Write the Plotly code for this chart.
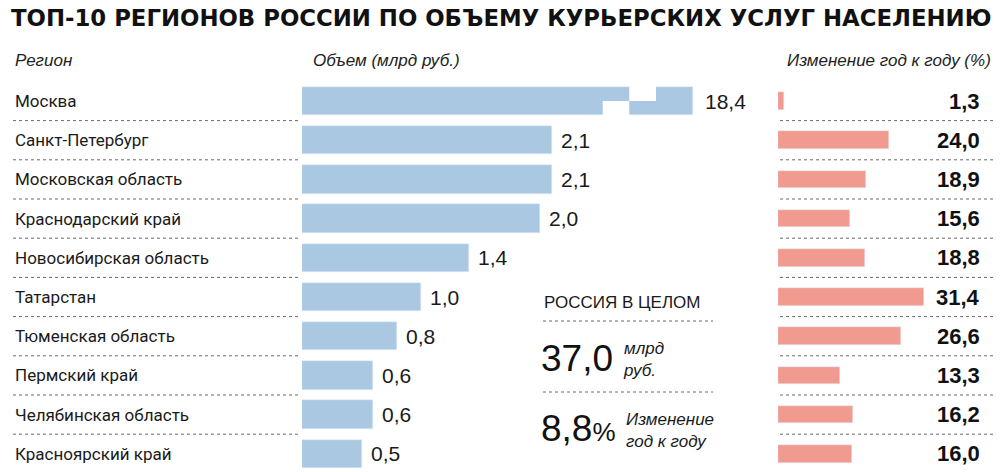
import numpy as np
import plotly.graph_objects as go

regions = ["Москва", "Санкт-Петербург", "Московская область", "Краснодарский край",
           "Новосибирская область", "Татарстан", "Тюменская область", "Пермский край",
           "Челябинская область", "Красноярский край"]
volume = [18.4, 2.1, 2.1, 2.0, 1.4, 1.0, 0.8, 0.6, 0.6, 0.5]   # млрд руб.
change = [1.3, 24.0, 18.9, 15.6, 18.8, 31.4, 26.6, 13.3, 16.2, 16.0]  # % год к году

total_volume = 37.0
total_change = 8.8

W, H = 1000, 472
BLUE = "#abc8e2"
PINK = "#f19b90"
SANS = "Liberation Sans, Arial, sans-serif"
LABEL = "Roboto, Liberation Sans, sans-serif"
DASH = "#6a6a6a"

# Moscow bar is drawn with a break
cap = 3.283
vol_shown = np.minimum(volume, cap)


def fx(p):
    return p / W


def fy(p):
    return 1 - p / H


def fmt(v):
    return f"{v:.1f}".replace(".", ",")


fig = go.Figure()
fig.add_bar(y=regions, x=vol_shown, orientation="h", marker_color=BLUE,
            width=0.72, xaxis="x", yaxis="y", hoverinfo="skip")
fig.add_bar(y=regions, x=change, orientation="h", marker_color=PINK,
            width=0.45, xaxis="x2", yaxis="y", hoverinfo="skip")

ann = []
# title and headers
ann.append(dict(text="<b>ТОП-10 РЕГИОНОВ РОССИИ ПО ОБЪЕМУ КУРЬЕРСКИХ УСЛУГ НАСЕЛЕНИЮ</b>",
                x=fx(9), y=fy(18), xanchor="left", yanchor="middle",
                font=dict(family="DejaVu Sans", size=22.8, color="#111")))
hdr = dict(family=SANS, size=17, color="#222", style="italic")
ann.append(dict(text="Регион", x=fx(13), y=fy(60), xanchor="left", yanchor="middle", font=hdr))
ann.append(dict(text="Объем (млрд руб.)", x=fx(311), y=fy(60), xanchor="left", yanchor="middle", font=hdr))
ann.append(dict(text="Изменение год к году (%)", x=fx(993), y=fy(60), xanchor="right",
                yanchor="middle", font=hdr))

for r, v, vs, c in zip(regions, volume, vol_shown, change):
    ann.append(dict(text=r, x=fx(13), xref="paper", y=r, yref="y", xanchor="left",
                    yanchor="middle", font=dict(family=LABEL, size=17, color="#1a1a1a")))
    ann.append(dict(text=fmt(v), x=vs, xref="x", y=r, yref="y", xanchor="left",
                    xshift=10 if v > cap else 7,
                    yanchor="middle", font=dict(family=SANS, size=21, color="#1a1a1a")))
    ann.append(dict(text="<b>" + fmt(c) + "</b>", x=fx(982), xref="paper", y=r, yref="y",
                    xanchor="right", yanchor="middle",
                    font=dict(family=SANS, size=22, color="#111")))

# Russia total box
ann.append(dict(text="РОССИЯ В ЦЕЛОМ", x=fx(542), y=fy(302), xanchor="left", yanchor="middle",
                font=dict(family=SANS, size=17, color="#1a1a1a")))
ann.append(dict(text=fmt(total_volume), x=fx(539), y=fy(358), xanchor="left", yanchor="middle",
                font=dict(family=SANS, size=37, color="#111")))
ann.append(dict(text="млрд<br>руб.", x=fx(621), y=fy(359), xanchor="left", yanchor="middle",
                align="left", font=dict(family=SANS, size=17, color="#1a1a1a", style="italic")))
ann.append(dict(text=fmt(total_change) + "<span style='font-size:26px'>%</span>",
                x=fx(539), y=fy(428), xanchor="left", yanchor="middle",
                font=dict(family=SANS, size=37, color="#111")))
ann.append(dict(text="Изменение<br>год к году", x=fx(624), y=fy(430), xanchor="left", yanchor="middle",
                align="left", font=dict(family=SANS, size=17, color="#1a1a1a", style="italic")))
for a in ann:
    a.setdefault("xref", "paper")
    a.setdefault("yref", "paper")
    a["showarrow"] = False

shapes = []
for i in range(len(regions) - 1):
    yy = i + 0.5
    for x0, x1 in [(13, 299), (780, 993)]:
        shapes.append(dict(type="line", xref="paper", yref="y", x0=fx(x0), x1=fx(x1), y0=yy, y1=yy,
                           line=dict(color=DASH, width=1, dash="3px,3px")))
for yp in [321, 392]:
    shapes.append(dict(type="line", xref="paper", yref="paper", x0=fx(543), x1=fx(713),
                       y0=fy(yp), y1=fy(yp), line=dict(color=DASH, width=1, dash="3px,3px")))
# break in Moscow bar
shapes.append(dict(type="rect", xref="x", yref="y", x0=2.527, x1=2.75, y0=0, y1=0.4,
                   fillcolor="white", line_width=0, layer="above"))
shapes.append(dict(type="rect", xref="x", yref="y", x0=2.75, x1=2.975, y0=-0.4, y1=0,
                   fillcolor="white", line_width=0, layer="above"))

row0, step = 101, 39.2
fig.update_layout(
    width=W, height=H, margin=dict(l=0, r=0, t=0, b=0),
    paper_bgcolor="white", plot_bgcolor="rgba(0,0,0,0)",
    showlegend=False, bargap=0,
    annotations=ann, shapes=shapes,
    xaxis=dict(domain=[fx(302), fx(760)], range=[0, 458 / 119], visible=False, fixedrange=True),
    xaxis2=dict(domain=[fx(778), fx(993)], range=[0, 215 / 4.64], visible=False,
                anchor="y", fixedrange=True),
    yaxis=dict(domain=[0, 1], range=[(H - row0) / step, -row0 / step], visible=False,
               type="category", fixedrange=True),
)

fig.write_html("out.html", config={"displayModeBar": False},
               post_script="document.body.style.margin='0';")
